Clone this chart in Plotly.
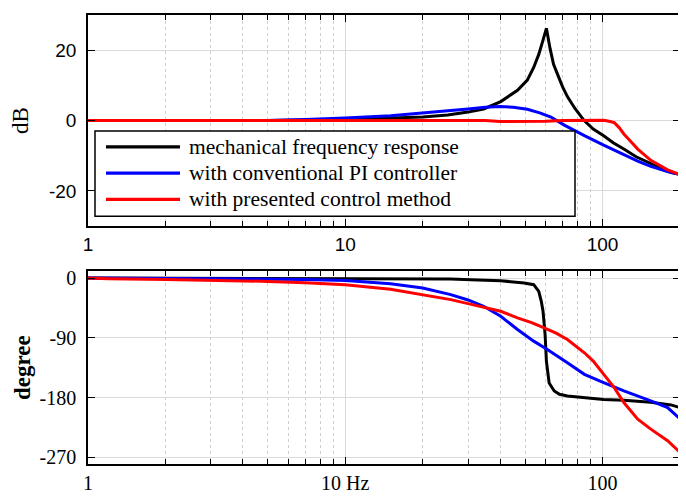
import plotly.graph_objects as go
from plotly.subplots import make_subplots

# ---------------- data ----------------
# magnitude (dB)
f_mag_mech = [1, 2, 5, 10, 15, 20, 25, 30, 34.5, 40.2, 46.7, 51, 54, 56.5, 58.5, 60.5,
              62.5, 64.5, 66.8, 70, 73, 78, 84.8, 92, 101, 110, 121, 135, 154, 170, 185, 200]
mag_mech = [0, 0, 0.05, 0.3, 0.6, 1.0, 1.6, 2.4, 3.3, 5.4, 8.6, 11.5, 15.1, 18.8, 22.5, 26.2,
            20.5, 16, 13.2, 9.5, 6.8, 3.5, 0, -2.4, -4.3, -6.3, -8.1, -10.3, -12.2, -13.8, -14.8, -15.3]

f_mag_pi = [1, 5, 7, 10, 15, 20, 25, 30, 35, 40, 45, 51, 57, 63, 71, 78, 85, 101, 121, 137, 154, 179, 200]
mag_pi = [0, 0, 0.3, 0.7, 1.4, 2.1, 2.7, 3.3, 3.8, 4.0, 3.8, 3.2, 2.2, 1.0, -1.3, -2.9, -4.3,
          -7.0, -9.7, -11.5, -13.0, -14.5, -15.3]

f_mag_new = [1, 10, 20, 30, 35, 40, 50, 60, 70, 80, 95, 101, 106, 111, 116, 121, 129, 137, 154, 179, 200]
mag_new = [0, 0.1, 0.15, 0.15, 0.0, -0.3, -0.3, -0.2, 0.0, 0.1, 0.15, 0.1, -0.2, -0.6, -2.0,
           -3.8, -6.0, -8.1, -11.3, -14.0, -15.4]

# phase (degree)
f_ph_mech = [1, 10, 14, 20, 25.7, 30.7, 40.2, 49.6, 54, 56.5, 57.8, 58.7, 59.8, 60.5, 61.2, 62,
             64.9, 68, 73, 85, 101, 121, 154, 184.5, 200]
ph_mech = [0, -0.5, -1, -1.5, -1.5, -2.5, -4, -7.5, -10, -20, -35, -50, -85, -125, -145, -158,
           -170, -175, -177.5, -180, -183, -184, -187, -191, -195]

f_ph_pi = [1, 3, 5, 7, 10, 15, 20, 25.7, 30, 34.5, 40.2, 46.7, 54, 61, 73, 85, 101, 121, 154, 179, 200]
ph_pi = [0, -0.5, -1, -2, -3.5, -8.5, -15, -25, -33, -42.5, -57.5, -77.5, -95, -107.5, -127.5,
         -145, -157.5, -170, -185, -195, -212]

f_ph_new = [1, 1.2, 2, 3, 5, 7, 10, 15, 20, 25.7, 30, 34.5, 40.2, 46.7, 53, 59.3, 66, 73, 85, 92,
            98.6, 111, 121, 137, 154, 179, 200]
ph_new = [0, -1, -2, -3, -5, -7, -10, -17, -25, -32.5, -38.5, -44, -50, -60, -67, -75, -83,
          -92.5, -112.5, -125, -140, -165, -187.5, -212.5, -227.5, -245, -262.5]

names = ["mechanical frequency response", "with conventional PI controller",
         "with presented control method"]
colors = ["#000000", "#0000ff", "#ff0000"]

x_major = [1, 10, 100]
x_minor = [2, 3, 4, 5, 6, 7, 8, 9, 20, 30, 40, 50, 60, 70, 80, 90]
mag_ticks = [-20, 0, 20]
mag_ticktext = ["-20", "0", "20"]
ph_ticks = [-270, -180, -90, 0]
ph_ticktext = ["-270", "-180", "-90", "0"]

# ---------------- figure ----------------
fig = make_subplots(rows=2, cols=1)

mags = [(f_mag_mech, mag_mech), (f_mag_pi, mag_pi), (f_mag_new, mag_new)]
phs = [(f_ph_mech, ph_mech), (f_ph_pi, ph_pi), (f_ph_new, ph_new)]
for i in range(3):
    fig.add_trace(go.Scatter(x=mags[i][0], y=mags[i][1], mode="lines", name=names[i],
                             line=dict(color=colors[i], width=3), showlegend=False),
                  row=1, col=1)
    fig.add_trace(go.Scatter(x=phs[i][0], y=phs[i][1], mode="lines", name=names[i],
                             line=dict(color=colors[i], width=3), showlegend=False),
                  row=2, col=1)

# page body has an 8px margin; compensate so the picture lands where the reference is
OFF = 8
W, H = 686 - OFF, 497 - OFF
ml, mr, mt, mb = 88 - OFF, 6, 11 - OFF, 33
pw, ph = W - ml - mr, H - mt - mb


def py(y):  # reference pixel -> paper y
    return (H - mb - (y - OFF)) / ph


def px(x):
    return ((x - OFF) - ml) / pw


grid = "#dadada"
mgrid = "#cfcfcf"
xcommon = dict(type="log", range=[0, 2.30103], tickvals=x_major, ticks="inside", ticklen=7,
               tickcolor="black", tickwidth=1.2, showline=True, linecolor="black", linewidth=1.6,
               mirror="ticks", showgrid=True, gridcolor=grid, gridwidth=1, zeroline=False,
               minor=dict(tickvals=x_minor, ticks="inside", ticklen=5, tickcolor="black",
                          showgrid=True, gridcolor=mgrid, griddash="dot", gridwidth=1))
fig.update_xaxes(**xcommon)
fig.update_xaxes(row=1, col=1, ticktext=["1", "10", "100"],
                 tickfont=dict(family="Liberation Sans", size=19, color="black"))
fig.update_xaxes(row=2, col=1, ticktext=["1", "10 Hz", "100"],
                 tickfont=dict(family="Liberation Serif", size=20, color="black"))

ycommon = dict(ticks="inside", ticklen=7, tickcolor="black", tickwidth=1.2, showline=True,
               linecolor="black", linewidth=1.6, mirror="ticks", showgrid=True, gridcolor=grid,
               zeroline=False, ticklabelstandoff=6)
fig.update_yaxes(**ycommon)
fig.update_yaxes(row=1, col=1, range=[-30, 30], tickvals=mag_ticks, ticktext=mag_ticktext,
                 tickfont=dict(family="Liberation Sans", size=19, color="black"),
                 title=dict(text="dB", font=dict(family="Liberation Serif", size=23, color="black"),
                            standoff=18))
fig.update_yaxes(row=2, col=1, range=[-280, 10], tickvals=ph_ticks, ticktext=ph_ticktext,
                 tickfont=dict(family="Liberation Serif", size=20, color="black"),
                 title=dict(text="<b>degree</b>",
                            font=dict(family="Liberation Serif", size=23, color="black"),
                            standoff=2))

fig.update_layout(
    xaxis=dict(domain=[0, 1]), yaxis=dict(domain=[py(224), 1.0]),
    xaxis2=dict(domain=[0, 1]), yaxis2=dict(domain=[0.0, py(269.7)]),
)

# legend drawn as a boxed key in the top panel
shapes = [dict(type="rect", xref="paper", yref="paper", x0=px(95), x1=px(575), y0=py(214),
               y1=py(128), line=dict(color="black", width=1.5), fillcolor="white", layer="above")]
annots = []
rows_y = [144, 170.5, 197]
for i in range(3):
    shapes.append(dict(type="line", xref="paper", yref="paper", x0=px(106), x1=px(180),
                       y0=py(rows_y[i]), y1=py(rows_y[i]),
                       line=dict(color=colors[i], width=3.4), layer="above"))
    annots.append(dict(xref="paper", yref="paper", x=px(187), y=py(rows_y[i]), text=names[i],
                       showarrow=False, xanchor="left", yanchor="middle",
                       font=dict(family="Liberation Serif", size=21.5, color="black")))

fig.update_layout(width=W, height=H, margin=dict(l=ml, r=mr, t=mt, b=mb),
                  paper_bgcolor="white", plot_bgcolor="white", showlegend=False,
                  shapes=shapes, annotations=annots)

fig.write_html("out.html")
